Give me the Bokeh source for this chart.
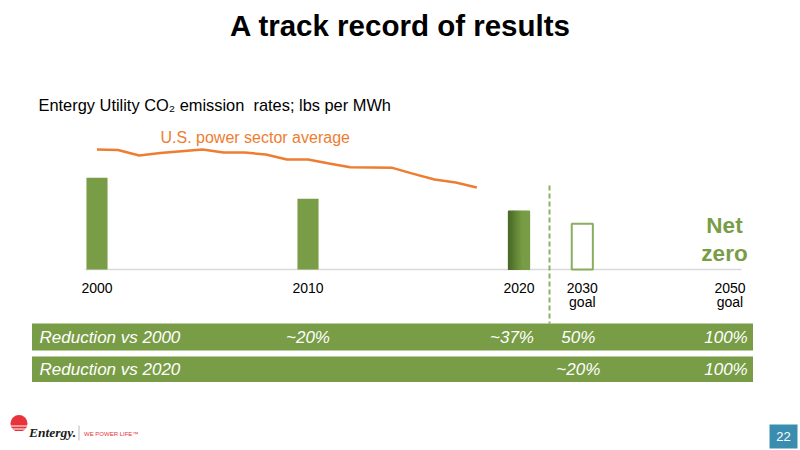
from bokeh.plotting import figure
from bokeh.models import Range1d
from bokeh.core.properties import value
from bokeh.embed import file_html
from bokeh.resources import INLINE

# ---------------- data ----------------
title_text = "A track record of results"
subtitle_text = "Entergy Utility CO\u2082 emission\u00a0 rates; lbs per MWh"
us_label = "U.S. power sector average"

# U.S. power sector average (lbs/MWh), 2000-2018
us_years = list(range(2000, 2019))
us_avg = [1440, 1434, 1368, 1398, 1420, 1440, 1404, 1404, 1380, 1320,
          1320, 1272, 1228, 1224, 1220, 1148, 1080, 1044, 984]

# Entergy utility CO2 emission rate (lbs/MWh)
bar_years = [2000, 2010, 2020]
entergy_rate = [1100, 850, 700]
goal_2030_rate = 550

# categories / tick labels
categories = ["2000", "2010", "2020", "2030 goal", "2050 goal"]
tick_labels = ["2000", "2010", "2020", "2030", "2050"]
tick_sub = ["", "", "", "goal", "goal"]

# reduction table
row_names = ["Reduction vs 2000", "Reduction vs 2020"]
vs2000 = ["", "~20%", "~37%", "50%", "100%"]
vs2020 = ["", "", "", "~20%", "100%"]
net_zero = ["Net", "zero"]
page_no = "22"

# ---------------- layout ----------------
W, H = 800, 450
ORIGIN_PX = 96.5       # pixel of year 2000
PX_PER_UNIT = 21.1     # pixels per slot unit
BASE_PY = 269.0        # baseline pixel (from top)
LBS_PER_PX = 12.0
slot = {"2000": 0, "2010": 10, "2020": 20, "2030 goal": 23, "2050 goal": 30}
cat_x = [slot[c] for c in categories]
band_text_nudge_px = [0, 0, -7, -4, -4]


def X(px):
    return (px - ORIGIN_PX) / PX_PER_UNIT


def Y(py):
    return (BASE_PY - py) * LBS_PER_PX


def YB(py, fs):
    # anchor for a text baseline at pixel py, drawn with "middle" baseline
    return Y(py - 0.35 * fs)


GREEN = "#789D46"
DARK_GREEN = "#4A6A26"
ORANGE = "#ED7D31"
TEAL = "#3B8DB0"
FONT = value("Liberation Sans")

p = figure(width=W, height=H, x_range=Range1d(X(0), X(W)), y_range=Range1d(Y(H), Y(0)),
           x_axis_type=None, y_axis_type=None, toolbar_location=None,
           output_backend="svg", min_border=0, min_border_left=0, min_border_right=0,
           min_border_top=0, min_border_bottom=0)
p.outline_line_color = None
p.background_fill_color = "white"
p.border_fill_color = "white"
p.xgrid.visible = False
p.ygrid.visible = False


def txt(xs, ys_px, texts, fs, align="left", color="black", style="normal", font=FONT,
        x_offset=0):
    p.text(x=xs, y=[YB(v, fs) for v in ys_px], text=texts, text_font=font,
           text_font_style=style, text_font_size=value("%gpx" % fs), text_align=align,
           text_baseline="middle", text_color=color, x_offset=x_offset)


# title
txt([X(400)], [35.7], [title_text], 29.5, align="center", style="bold")
# subtitle
txt([X(38)], [110.7], [subtitle_text], 16.4)

# baseline
p.segment(x0=[X(85)], y0=[0], x1=[X(741)], y1=[0], line_color="#D9D9D9", line_width=1.5)

# bars 2000, 2010 plain; 2020 gradient
bx = [y - 2000 for y in bar_years]
p.vbar(x=bx[:2], top=entergy_rate[:2], bottom=0, width=1.0, fill_color=GREEN, line_color=None)


def mix(c1, c2, t):
    a = [int(c1[i:i + 2], 16) for i in (1, 3, 5)]
    b = [int(c2[i:i + 2], 16) for i in (1, 3, 5)]
    return "#%02x%02x%02x" % tuple(round(a[k] + (b[k] - a[k]) * t) for k in range(3))


n = 10
left = bx[2] - 0.5
xs, cols = [], []
for i in range(n):
    xs.append(left + (i + 0.5) / n)
    cols.append(mix(DARK_GREEN, GREEN, min(1.0, i / (n - 1) * 1.4)))
p.vbar(x=xs, top=[entergy_rate[2]] * n, bottom=0, width=1.0 / n, fill_color=cols,
       line_color=cols, line_width=1.2)

# 2030 goal hollow bar
p.vbar(x=[slot["2030 goal"]], top=[goal_2030_rate], bottom=0, width=1.0, fill_color="white",
       line_color="#8AAE5E", line_width=2)

# U.S. average line
p.line(x=[y - 2000 for y in us_years], y=us_avg, line_color=ORANGE, line_width=2.5)
txt([X(160)], [143], [us_label], 16, color=ORANGE)

# dashed separator
p.segment(x0=[X(549)], y0=[Y(185)], x1=[X(549)], y1=[Y(323)], line_color="#8DB163",
          line_width=2, line_dash="5 3")

# tick labels
txt(cat_x, [292] * 5, tick_labels, 14, align="center")
txt(cat_x, [306.5] * 5, tick_sub, 14, align="center")

# net zero
txt([X(724), X(724)], [232.7, 261], net_zero, 22.5, align="center", color=GREEN, style="bold")

# reduction bands
p.quad(left=[X(31.5), X(31.5)], right=[X(752.5), X(752.5)], top=[Y(323), Y(356)],
       bottom=[Y(350), Y(381.5)], fill_color=GREEN, line_color=None)
txt([X(39), X(39)], [343, 374.7], row_names, 17, color="white", style="italic")
for row, ypix in ((vs2000, 343), (vs2020, 374.7)):
    idx = [i for i in range(5) if row[i]]
    xs_r = [cat_x[i] + band_text_nudge_px[i] / PX_PER_UNIT for i in idx]
    ts_r = [row[i] for i in idx]
    txt(xs_r, [ypix] * len(xs_r), ts_r, 17, align="center", color="white", style="italic")

# logo
p.scatter(x=[X(18.5)], y=[Y(423)], size=17, marker="circle", fill_color="#E8333A",
          line_color=None)
for wy, half in ((425.5, 8.0), (428.5, 7.0), (431.0, 5.0)):
    p.segment(x0=[X(18.5 - half)], y0=[Y(wy)], x1=[X(18.5 + half)], y1=[Y(wy)],
              line_color="white", line_width=1.1)
txt([X(28.5)], [436.5], ["Entergy."], 13.5, color="#1A1A1A", style="bold italic",
    font=value("Liberation Serif"))
p.segment(x0=[X(78.5)], y0=[Y(425)], x1=[X(78.5)], y1=[Y(440)], line_color="#BBBBBB",
          line_width=1)
txt([X(83.5)], [435.5], ["WE POWER LIFE\u2122"], 6, color="#E8333A")

# page number
p.quad(left=[X(769)], right=[X(797)], top=[Y(424)], bottom=[Y(448)], fill_color=TEAL,
       line_color=None)
txt([X(783)], [441], [page_no], 13, align="center", color="white")

open("out.html", "w").write(file_html(p, INLINE))
